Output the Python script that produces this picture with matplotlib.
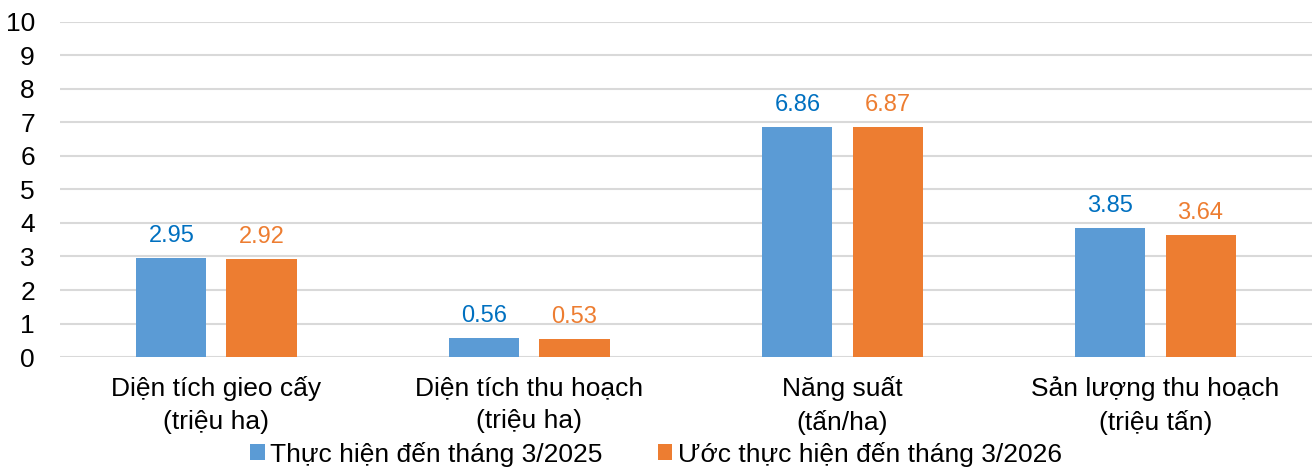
import matplotlib
matplotlib.use("Agg")
import matplotlib.pyplot as plt
import numpy as np

categories = ["Diện tích gieo cấy\n(triệu ha)", "Diện tích thu hoạch\n(triệu ha)",
              "Năng suất\n(tấn/ha)", "Sản lượng thu hoạch\n(triệu tấn)"]
series_names = ["Thực hiện đến tháng 3/2025", "Ước thực hiện đến tháng 3/2026"]
s2025 = [2.95, 0.56, 6.86, 3.85]
s2026 = [2.92, 0.53, 6.87, 3.64]
yticks = list(range(0, 11))

plt.rcParams['font.family'] = ['Liberation Sans', 'DejaVu Sans']
blue = "#5B9BD5"
orange = "#ED7D31"
blue_lbl = "#0070C0"
orange_lbl = "#ED7D31"

fig = plt.figure(figsize=(13.12, 4.67), dpi=100)
ax = fig.add_axes([0.0457, 0.2355, 0.9543, 0.7175])

x = np.arange(len(categories))
w = 0.224
off = 0.144
b1 = ax.bar(x - off, s2025, width=w, color=blue, label=series_names[0], zorder=3)
b2 = ax.bar(x + off, s2026, width=w, color=orange, label=series_names[1], zorder=3)

for bars, vals, c in [(b1, s2025, blue_lbl), (b2, s2026, orange_lbl)]:
    for r, v in zip(bars, vals):
        ax.annotate(f"{v:.2f}", (r.get_x() + r.get_width() / 2, v), xytext=(0, 11.5),
                    textcoords="offset points", ha="center", va="baseline",
                    fontsize=17, color=c)

ax.set_xlim(-0.5, len(categories) - 0.5)
ax.set_ylim(0, 10)
ax.set_yticks(yticks)
ax.set_yticklabels([str(t) for t in yticks], fontsize=19)
ax.set_xticks(x)
ax.set_xticklabels(categories, fontsize=19, linespacing=1.45)
ax.tick_params(axis='both', length=0, colors='black')
ax.tick_params(axis='y', pad=18)
ax.tick_params(axis='x', pad=14)
ax.yaxis.grid(True, color="#D9D9D9", linewidth=1.5, zorder=0)
for s in ax.spines.values():
    s.set_visible(False)

fig.legend(handles=[b1, b2], labels=series_names, loc="lower center",
           bbox_to_anchor=(0.5, -0.05), ncol=2, frameon=False, fontsize=19,
           handlelength=0.55, handleheight=0.55, handletextpad=0.2, columnspacing=2.1)

fig.savefig("out.png", dpi=100)
